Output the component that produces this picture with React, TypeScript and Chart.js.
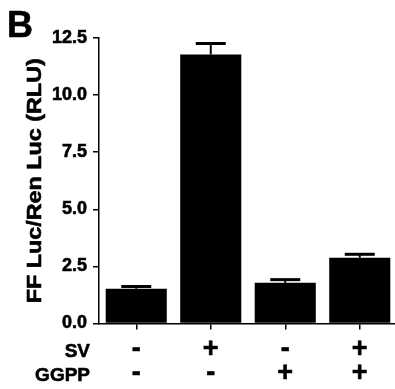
import React, { useEffect, useRef } from 'react';
import { Chart, registerables } from 'chart.js';

Chart.register(...registerables);

const svLabels = ['-', '+', '-', '+'];
const ggppLabels = ['-', '-', '+', '+'];
const rowNames = ['SV', 'GGPP'];
const means = [1.52, 11.78, 1.78, 2.88];
const errors = [0.1, 0.48, 0.14, 0.15];
const yTicks = [0, 2.5, 5, 7.5, 10, 12.5];
const panelLetter = 'B';
const yTitle = 'FF Luc/Ren Luc (RLU)';

const FONT = 'Liberation Sans, Arial, sans-serif';
const X_PAD = 8;
const X_LINE = 24;
const STROKE = 0.6;

function boldText(ctx: any, text: string, x: number, y: number) {
  ctx.fillText(text, x, y);
  ctx.strokeText(text, x, y);
}

const decorPlugin = {
  id: 'decor',
  afterDatasetsDraw(chart: any) {
    const ctx = chart.ctx;
    const meta = chart.getDatasetMeta(0);
    const ys = chart.scales.y;
    ctx.save();
    ctx.strokeStyle = '#000';
    meta.data.forEach((bar: any, i: number) => {
      const x = bar.x;
      const base = ys.getPixelForValue(means[i]);
      const top = ys.getPixelForValue(means[i] + errors[i]);
      ctx.lineWidth = 2;
      ctx.beginPath();
      ctx.moveTo(x, base);
      ctx.lineTo(x, top);
      ctx.stroke();
      ctx.lineWidth = 3;
      ctx.beginPath();
      ctx.moveTo(x - 15, top);
      ctx.lineTo(x + 15, top);
      ctx.stroke();
    });
    ctx.restore();
  },
  afterDraw(chart: any) {
    const ctx = chart.ctx;
    const xs = chart.scales.x;
    const area = chart.chartArea;
    ctx.save();
    ctx.fillStyle = '#000';
    ctx.strokeStyle = '#000';
    ctx.lineWidth = STROKE;
    ctx.lineJoin = 'round';
    // row names
    ctx.font = `bold 19px ${FONT}`;
    ctx.textAlign = 'right';
    ctx.textBaseline = 'alphabetic';
    rowNames.forEach((name, i) => {
      const y = xs.top + 6 + X_PAD + X_LINE * (i + 0.5) + 7;
      boldText(ctx, name, 90, y);
    });
    // panel letter
    ctx.font = `bold 36px ${FONT}`;
    ctx.textAlign = 'left';
    ctx.textBaseline = 'alphabetic';
    boldText(ctx, panelLetter, 7, 37);
    // y title
    ctx.font = `bold 20px ${FONT}`;
    const w = ctx.measureText(yTitle).width;
    const sx = 245 / w;
    ctx.translate(35, (area.top + area.bottom) / 2);
    ctx.rotate(-Math.PI / 2);
    ctx.scale(sx, 1);
    ctx.textAlign = 'center';
    ctx.textBaseline = 'middle';
    boldText(ctx, yTitle, 0, 0);
    ctx.restore();
  },
};

export default function App() {
  const ref = useRef<HTMLCanvasElement>(null);
  useEffect(() => {
    if (!ref.current) return;
    const labels = svLabels.map((s, i) => [s, ggppLabels[i]]);
    const chart = new Chart(ref.current, {
      type: 'bar',
      data: {
        labels,
        datasets: [
          {
            data: means,
            backgroundColor: '#000',
            borderWidth: 0,
            categoryPercentage: 1,
            barPercentage: 0.82,
          },
        ],
      },
      options: {
        responsive: false,
        animation: false,
        layout: { padding: { top: 38, left: 0, right: 1, bottom: 0 } },
        plugins: { legend: { display: false }, tooltip: { enabled: false } },
        scales: {
          x: {
            afterFit: (s: any) => {
              s.height = 389 - 323.5;
            },
            grid: {
              display: true,
              offset: false,
              drawOnChartArea: false,
              drawTicks: true,
              tickLength: 6,
              color: '#000',
              lineWidth: 1.5,
            },
            border: { display: true, color: '#000', width: 1.5 },
            ticks: {
              color: '#000',
              padding: X_PAD,
              maxRotation: 0,
              textStrokeColor: '#000',
              textStrokeWidth: STROKE,
              font: { family: FONT, weight: 'bold', size: 27, lineHeight: `${X_LINE}px` },
            },
          },
          y: {
            min: 0,
            max: 12.5,
            afterFit: (s: any) => {
              s.width = 99;
            },
            afterBuildTicks: (s: any) => {
              s.ticks = yTicks.map((v) => ({ value: v }));
            },
            grid: {
              display: true,
              drawOnChartArea: false,
              drawTicks: true,
              tickLength: 6,
              color: '#000',
              lineWidth: 1.5,
            },
            border: { display: true, color: '#000', width: 1.5 },
            ticks: {
              color: '#000',
              padding: 6,
              textStrokeColor: '#000',
              textStrokeWidth: STROKE,
              callback: (v: any) => Number(v).toFixed(1),
              font: { family: FONT, weight: 'bold', size: 18 },
            },
          },
        },
      },
      plugins: [decorPlugin],
    });
    return () => chart.destroy();
  }, []);
  return (
    <div
      style={{
        position: 'fixed',
        left: 0,
        top: 0,
        width: 395,
        height: 389,
        overflow: 'hidden',
        background: '#fff',
      }}
    >
      <canvas ref={ref} width={398} height={389} style={{ width: 398, height: 389, display: 'block' }} />
    </div>
  );
}
